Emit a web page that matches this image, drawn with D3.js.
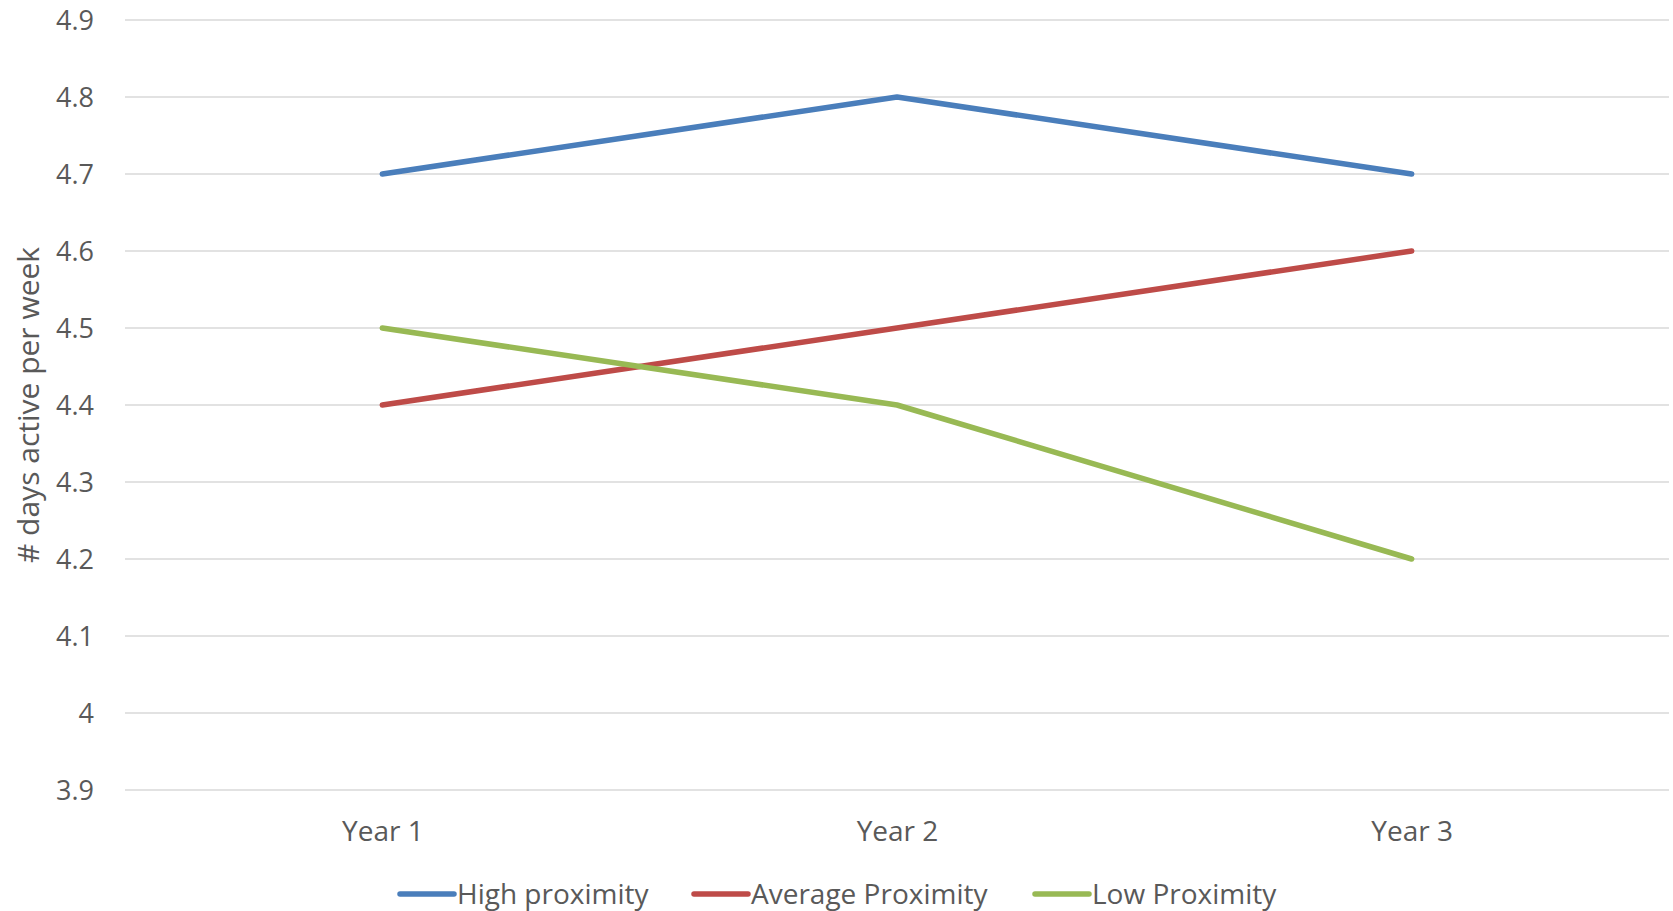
<!DOCTYPE html>
<html>
<head>
<meta charset="utf-8">
<script src="https://cdn.jsdelivr.net/npm/d3@7"></script>
<style>
  html, body { margin: 0; padding: 0; background: #fff; }
  svg { display: block; }
  text { font-family: "Open Sans", Lato, sans-serif; fill: #595959; }
</style>
</head>
<body>
<svg id="chart" width="1673" height="911"></svg>
<script>
const categories = ["Year 1", "Year 2", "Year 3"];
const seriesNames = ["High proximity", "Average Proximity", "Low Proximity"];
const highValues = [4.7, 4.8, 4.7];
const averageValues = [4.4, 4.5, 4.6];
const lowValues = [4.5, 4.4, 4.2];
const seriesColors = ["#4A7EBB", "#BE4B48", "#98B954"];
const yTicks = [3.9, 4, 4.1, 4.2, 4.3, 4.4, 4.5, 4.6, 4.7, 4.8, 4.9];
const yTitle = "# days active per week";

const series = [
  { name: seriesNames[0], values: highValues, color: seriesColors[0] },
  { name: seriesNames[1], values: averageValues, color: seriesColors[1] },
  { name: seriesNames[2], values: lowValues, color: seriesColors[2] }
];

const svg = d3.select("#chart");
const plot = { left: 125, right: 1669, top: 20, bottom: 790 };
const FONT = "Open Sans";

const x = d3.scalePoint().domain(categories).range([plot.left, plot.right]).padding(0.5);
const y = d3.scaleLinear().domain([3.9, 4.9]).range([plot.bottom, plot.top]);

// gridlines
svg.append("g").selectAll("line").data(yTicks).join("line")
  .attr("x1", plot.left).attr("x2", plot.right)
  .attr("y1", d => y(d)).attr("y2", d => y(d))
  .attr("stroke", "#D9D9D9").attr("stroke-width", 1.5);

// y axis labels
const yAxis = d3.axisLeft(y).tickValues(yTicks).tickSize(0).tickPadding(0).tickFormat(d3.format("~g"));
const yg = svg.append("g").attr("transform", `translate(94,0)`).call(yAxis);
yg.select(".domain").remove();
yg.selectAll("text").attr("font-size", 27).attr("dy", "0.36em").style("font-family", FONT).attr("fill", "#595959");

// x axis labels
const xAxis = d3.axisBottom(x).tickSize(0).tickPadding(0);
const xg = svg.append("g").attr("transform", `translate(0,841)`).call(xAxis);
xg.select(".domain").remove();
xg.selectAll("text").attr("font-size", 28).attr("dy", 0).attr("y", 0).style("font-family", FONT).attr("fill", "#595959");

// y title
svg.append("text")
  .attr("transform", `translate(39,${(plot.top + plot.bottom) / 2}) rotate(-90)`)
  .attr("text-anchor", "middle")
  .attr("font-size", 30)
  .text(yTitle);

// lines
const line = d3.line().x((d, i) => x(categories[i])).y(d => y(d));
svg.append("g").selectAll("path").data(series).join("path")
  .attr("d", d => line(d.values))
  .attr("fill", "none")
  .attr("stroke", d => d.color)
  .attr("stroke-width", 5.5)
  .attr("stroke-linecap", "round")
  .attr("stroke-linejoin", "round");

// legend
const legendX = [400, 694, 1035];
const lg = svg.append("g").selectAll("g").data(series).join("g")
  .attr("transform", (d, i) => `translate(${legendX[i]},894)`);
lg.append("line").attr("x1", 0).attr("x2", 54).attr("y1", 0).attr("y2", 0)
  .attr("stroke", d => d.color).attr("stroke-width", 5.5).attr("stroke-linecap", "round");
lg.append("text").attr("x", 57).attr("y", 0).attr("dy", "0.36em")
  .attr("font-size", 28).text(d => d.name);
</script>
</body>
</html>
